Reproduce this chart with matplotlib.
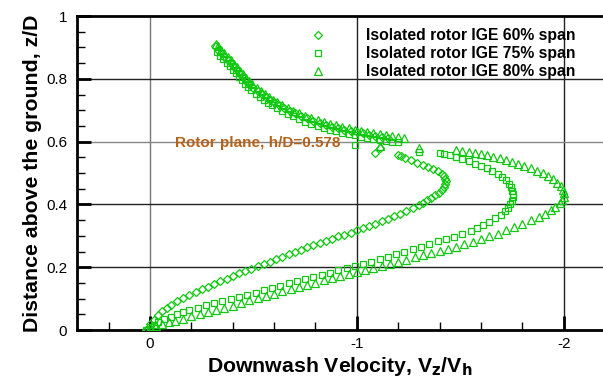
import matplotlib
matplotlib.use("Agg")
import matplotlib.pyplot as plt

plt.rcParams['font.family'] = ['Liberation Sans', 'DejaVu Sans']
plt.rcParams['axes.unicode_minus'] = False

labels = ["Isolated rotor IGE 60% span", "Isolated rotor IGE 75% span", "Isolated rotor IGE 80% span"]

# 60% span (diamonds): (Vz/Vh, z/D) from ground, around the bulge, rotor-plane scatter, upper band
pts_60 = [
    (0.02, 0.000), (0.00, 0.018), (-0.02, 0.033), (-0.04, 0.047), (-0.06, 0.059), (-0.08, 0.070),
    (-0.10, 0.080), (-0.13, 0.091), (-0.16, 0.101), (-0.19, 0.111), (-0.22, 0.120), (-0.25, 0.129),
    (-0.28, 0.138), (-0.31, 0.147), (-0.34, 0.156), (-0.37, 0.164), (-0.40, 0.172), (-0.43, 0.180),
    (-0.46, 0.188), (-0.49, 0.195), (-0.52, 0.203), (-0.55, 0.211), (-0.58, 0.218), (-0.61, 0.226),
    (-0.64, 0.233), (-0.67, 0.241), (-0.70, 0.248), (-0.73, 0.256), (-0.76, 0.263), (-0.79, 0.270),
    (-0.82, 0.277), (-0.85, 0.284), (-0.88, 0.291), (-0.91, 0.298), (-0.94, 0.304), (-0.97, 0.310),
    (-1.00, 0.317), (-1.03, 0.325), (-1.06, 0.332), (-1.09, 0.339), (-1.12, 0.346), (-1.15, 0.354),
    (-1.18, 0.362), (-1.21, 0.370), (-1.24, 0.379), (-1.27, 0.388), (-1.30, 0.397), (-1.32, 0.405),
    (-1.34, 0.413), (-1.36, 0.421), (-1.38, 0.429), (-1.395, 0.437), (-1.41, 0.446), (-1.42, 0.455),
    (-1.428, 0.464), (-1.43, 0.473), (-1.428, 0.482), (-1.42, 0.490), (-1.41, 0.498), (-1.39, 0.506),
    (-1.37, 0.513), (-1.345, 0.520), (-1.32, 0.527), (-1.29, 0.533), (-1.26, 0.540), (-1.235, 0.547),
    (-1.215, 0.553), (-1.20, 0.558),
    (-1.09, 0.565), (-1.11, 0.580),
    (-1.15, 0.613), (-1.12, 0.616), (-1.09, 0.619), (-1.06, 0.622), (-1.03, 0.626), (-1.00, 0.630),
    (-0.97, 0.634), (-0.94, 0.638), (-0.91, 0.643), (-0.88, 0.648), (-0.85, 0.654), (-0.82, 0.660),
    (-0.79, 0.667), (-0.76, 0.674), (-0.73, 0.682), (-0.70, 0.690), (-0.675, 0.698), (-0.65, 0.707),
    (-0.625, 0.716), (-0.60, 0.725), (-0.58, 0.734), (-0.56, 0.743), (-0.54, 0.752), (-0.52, 0.762),
    (-0.50, 0.772), (-0.48, 0.783), (-0.465, 0.794), (-0.45, 0.805), (-0.435, 0.816), (-0.42, 0.827),
    (-0.405, 0.838), (-0.39, 0.849), (-0.375, 0.860), (-0.36, 0.871), (-0.345, 0.882), (-0.33, 0.893),
    (-0.316, 0.905),
]

# 75% span (squares)
pts_75 = [
    (0.02, 0.000), (0.00, 0.008), (-0.02, 0.016), (-0.04, 0.024), (-0.07, 0.034), (-0.10, 0.042),
    (-0.13, 0.050), (-0.16, 0.057), (-0.19, 0.063), (-0.23, 0.071), (-0.27, 0.079), (-0.31, 0.086),
    (-0.35, 0.092), (-0.39, 0.099), (-0.43, 0.105), (-0.47, 0.112), (-0.51, 0.119), (-0.55, 0.126),
    (-0.59, 0.133), (-0.63, 0.141), (-0.67, 0.149), (-0.71, 0.156), (-0.75, 0.163), (-0.79, 0.170),
    (-0.83, 0.176), (-0.87, 0.183), (-0.91, 0.190), (-0.95, 0.197), (-0.99, 0.204), (-1.03, 0.211),
    (-1.07, 0.218), (-1.11, 0.226), (-1.15, 0.233), (-1.19, 0.241), (-1.23, 0.249), (-1.27, 0.257),
    (-1.31, 0.265), (-1.35, 0.274), (-1.39, 0.282), (-1.43, 0.290), (-1.47, 0.297), (-1.51, 0.305),
    (-1.55, 0.316), (-1.58, 0.325), (-1.61, 0.335), (-1.64, 0.345), (-1.67, 0.356), (-1.695, 0.367),
    (-1.715, 0.378), (-1.73, 0.389), (-1.742, 0.400), (-1.75, 0.411), (-1.755, 0.422), (-1.755, 0.433),
    (-1.752, 0.444), (-1.745, 0.455), (-1.735, 0.466), (-1.72, 0.477), (-1.70, 0.488), (-1.68, 0.498),
    (-1.655, 0.507), (-1.63, 0.515), (-1.60, 0.523), (-1.57, 0.530), (-1.54, 0.538), (-1.51, 0.545),
    (-1.48, 0.551), (-1.45, 0.557), (-1.42, 0.561), (-1.40, 0.564),
    (-1.30, 0.567), (-0.99, 0.590),
    (-1.20, 0.598), (-1.17, 0.600), (-1.14, 0.603), (-1.11, 0.606), (-1.08, 0.609), (-1.05, 0.612),
    (-1.02, 0.616), (-0.99, 0.620), (-0.96, 0.624), (-0.93, 0.628), (-0.90, 0.633), (-0.87, 0.638),
    (-0.84, 0.644), (-0.81, 0.650), (-0.78, 0.657), (-0.75, 0.664), (-0.72, 0.672), (-0.69, 0.680),
    (-0.665, 0.688), (-0.64, 0.697), (-0.615, 0.706), (-0.59, 0.715), (-0.57, 0.724), (-0.55, 0.733),
    (-0.53, 0.743), (-0.51, 0.753), (-0.49, 0.763), (-0.475, 0.774), (-0.46, 0.785), (-0.445, 0.796),
    (-0.43, 0.807), (-0.415, 0.818), (-0.40, 0.829), (-0.385, 0.840), (-0.37, 0.851), (-0.355, 0.862),
    (-0.34, 0.873), (-0.325, 0.884),
]

# 80% span (triangles)
pts_80 = [
    (0.02, 0.000), (0.00, 0.006), (-0.03, 0.012), (-0.06, 0.018), (-0.09, 0.024), (-0.12, 0.029),
    (-0.16, 0.036), (-0.20, 0.043), (-0.24, 0.050), (-0.28, 0.057), (-0.32, 0.064), (-0.36, 0.071),
    (-0.40, 0.078), (-0.44, 0.086), (-0.48, 0.094), (-0.52, 0.102), (-0.56, 0.109), (-0.60, 0.116),
    (-0.64, 0.123), (-0.68, 0.130), (-0.72, 0.137), (-0.76, 0.144), (-0.80, 0.151), (-0.84, 0.158),
    (-0.88, 0.165), (-0.92, 0.172), (-0.96, 0.178), (-1.00, 0.184), (-1.04, 0.190), (-1.08, 0.196),
    (-1.12, 0.203), (-1.16, 0.210), (-1.20, 0.217), (-1.24, 0.224), (-1.28, 0.231), (-1.32, 0.238),
    (-1.36, 0.245), (-1.40, 0.251), (-1.44, 0.258), (-1.48, 0.265), (-1.52, 0.273), (-1.56, 0.281),
    (-1.60, 0.289), (-1.64, 0.298), (-1.68, 0.307), (-1.72, 0.317), (-1.76, 0.327), (-1.80, 0.338),
    (-1.84, 0.349), (-1.88, 0.360), (-1.91, 0.370), (-1.94, 0.381), (-1.96, 0.392), (-1.98, 0.403),
    (-1.992, 0.414), (-2.00, 0.425), (-2.00, 0.436), (-1.995, 0.447), (-1.985, 0.458), (-1.97, 0.469),
    (-1.95, 0.480), (-1.925, 0.490), (-1.90, 0.499), (-1.87, 0.507), (-1.84, 0.515), (-1.81, 0.522),
    (-1.78, 0.529), (-1.75, 0.535), (-1.72, 0.541), (-1.69, 0.547), (-1.66, 0.552), (-1.63, 0.557),
    (-1.60, 0.561), (-1.57, 0.565), (-1.54, 0.568), (-1.51, 0.571), (-1.48, 0.573),
    (-1.30, 0.580), (-1.11, 0.585),
    (-1.23, 0.612), (-1.20, 0.614), (-1.17, 0.617), (-1.14, 0.620), (-1.11, 0.623), (-1.08, 0.626),
    (-1.05, 0.630), (-1.02, 0.634), (-0.99, 0.638), (-0.96, 0.642), (-0.93, 0.647), (-0.90, 0.652),
    (-0.87, 0.657), (-0.84, 0.663), (-0.81, 0.669), (-0.78, 0.676), (-0.75, 0.683), (-0.72, 0.691),
    (-0.69, 0.699), (-0.665, 0.707), (-0.64, 0.716), (-0.615, 0.725), (-0.595, 0.734), (-0.575, 0.743),
    (-0.555, 0.752), (-0.535, 0.762), (-0.515, 0.772), (-0.495, 0.782), (-0.48, 0.793), (-0.465, 0.804),
    (-0.45, 0.815), (-0.435, 0.826), (-0.42, 0.837), (-0.405, 0.848), (-0.39, 0.859), (-0.375, 0.870),
    (-0.36, 0.881), (-0.345, 0.892), (-0.33, 0.903), (-0.318, 0.912),
]

x_ticks = [0, -1, -2]
x_ticklabels = ["0", "-1", "-2"]
y_ticks = [0, 0.2, 0.4, 0.6, 0.8, 1.0]
y_ticklabels = ["0", "0.2", "0.4", "0.6", "0.8", "1"]

green = "#10c810"

fig = plt.figure(figsize=(6.03, 3.79), dpi=100)
ax = fig.add_axes([77 / 603, 1 - 330 / 379, 1 - 77 / 603, (330 - 16) / 379])

ax.set_xlim(0.353, -2.19)
ax.set_ylim(0, 1)

# grid lines
for xv in x_ticks:
    ax.axvline(xv, color="#777777" if xv == 0 else "#222222", lw=1.0, zorder=1)
for yv in y_ticks[1:-1]:
    ax.axhline(yv, color="#888888" if abs(yv - 0.6) < 1e-9 else "#222222", lw=1.0, zorder=1)

mk = dict(linestyle="none", markerfacecolor="none", markeredgecolor=green, markeredgewidth=0.9, zorder=3)
for pts, m, ms, lab in [(pts_60, "D", 4.4, labels[0]), (pts_75, "s", 4.8, labels[1]), (pts_80, "^", 5.5, labels[2])]:
    xs, ys = zip(*pts)
    ax.plot(xs, ys, marker=m, markersize=ms, label=lab, **mk)

ax.set_xticks(x_ticks)
ax.set_xticklabels(x_ticklabels)
ax.set_yticks(y_ticks)
ax.set_yticklabels(y_ticklabels)
ax.set_xticks([0.2, -0.2, -0.4, -0.6, -0.8, -1.2, -1.4, -1.6, -1.8], minor=True)
ax.set_yticks([0.05 * i for i in range(1, 20) if i % 4 != 0], minor=True)
ax.tick_params(which="major", direction="in", length=10, width=2, labelsize=11, pad=5)
ax.tick_params(which="minor", direction="in", length=6, width=1)
ax.tick_params(axis="y", which="major", pad=7)

for s in ["left", "bottom", "top"]:
    ax.spines[s].set_linewidth(2)
ax.spines["right"].set_visible(False)

ax.set_xlabel("Downwash Velocity, V$_\\mathbf{z}$/V$_\\mathbf{h}$", fontsize=15.3, fontweight="bold", labelpad=3)
ax.set_ylabel("Distance above the ground, z/D", fontsize=15.3, fontweight="bold", labelpad=3)

ax.text(-0.12, 0.596, "Rotor plane, h/D=0.578", color="#b5621a", fontsize=11, fontweight="bold",
        ha="left", va="center", zorder=4)

leg = ax.legend(loc="upper left", bbox_to_anchor=(302 / 603, 1 - 28 / 379), bbox_transform=fig.transFigure,
                frameon=False, fontsize=11.3, numpoints=1, handlelength=2.0, handletextpad=2.1,
                labelspacing=0.2, borderpad=0, borderaxespad=0)
for t in leg.get_texts():
    t.set_fontweight("bold")

fig.savefig("out.png", dpi=100)
